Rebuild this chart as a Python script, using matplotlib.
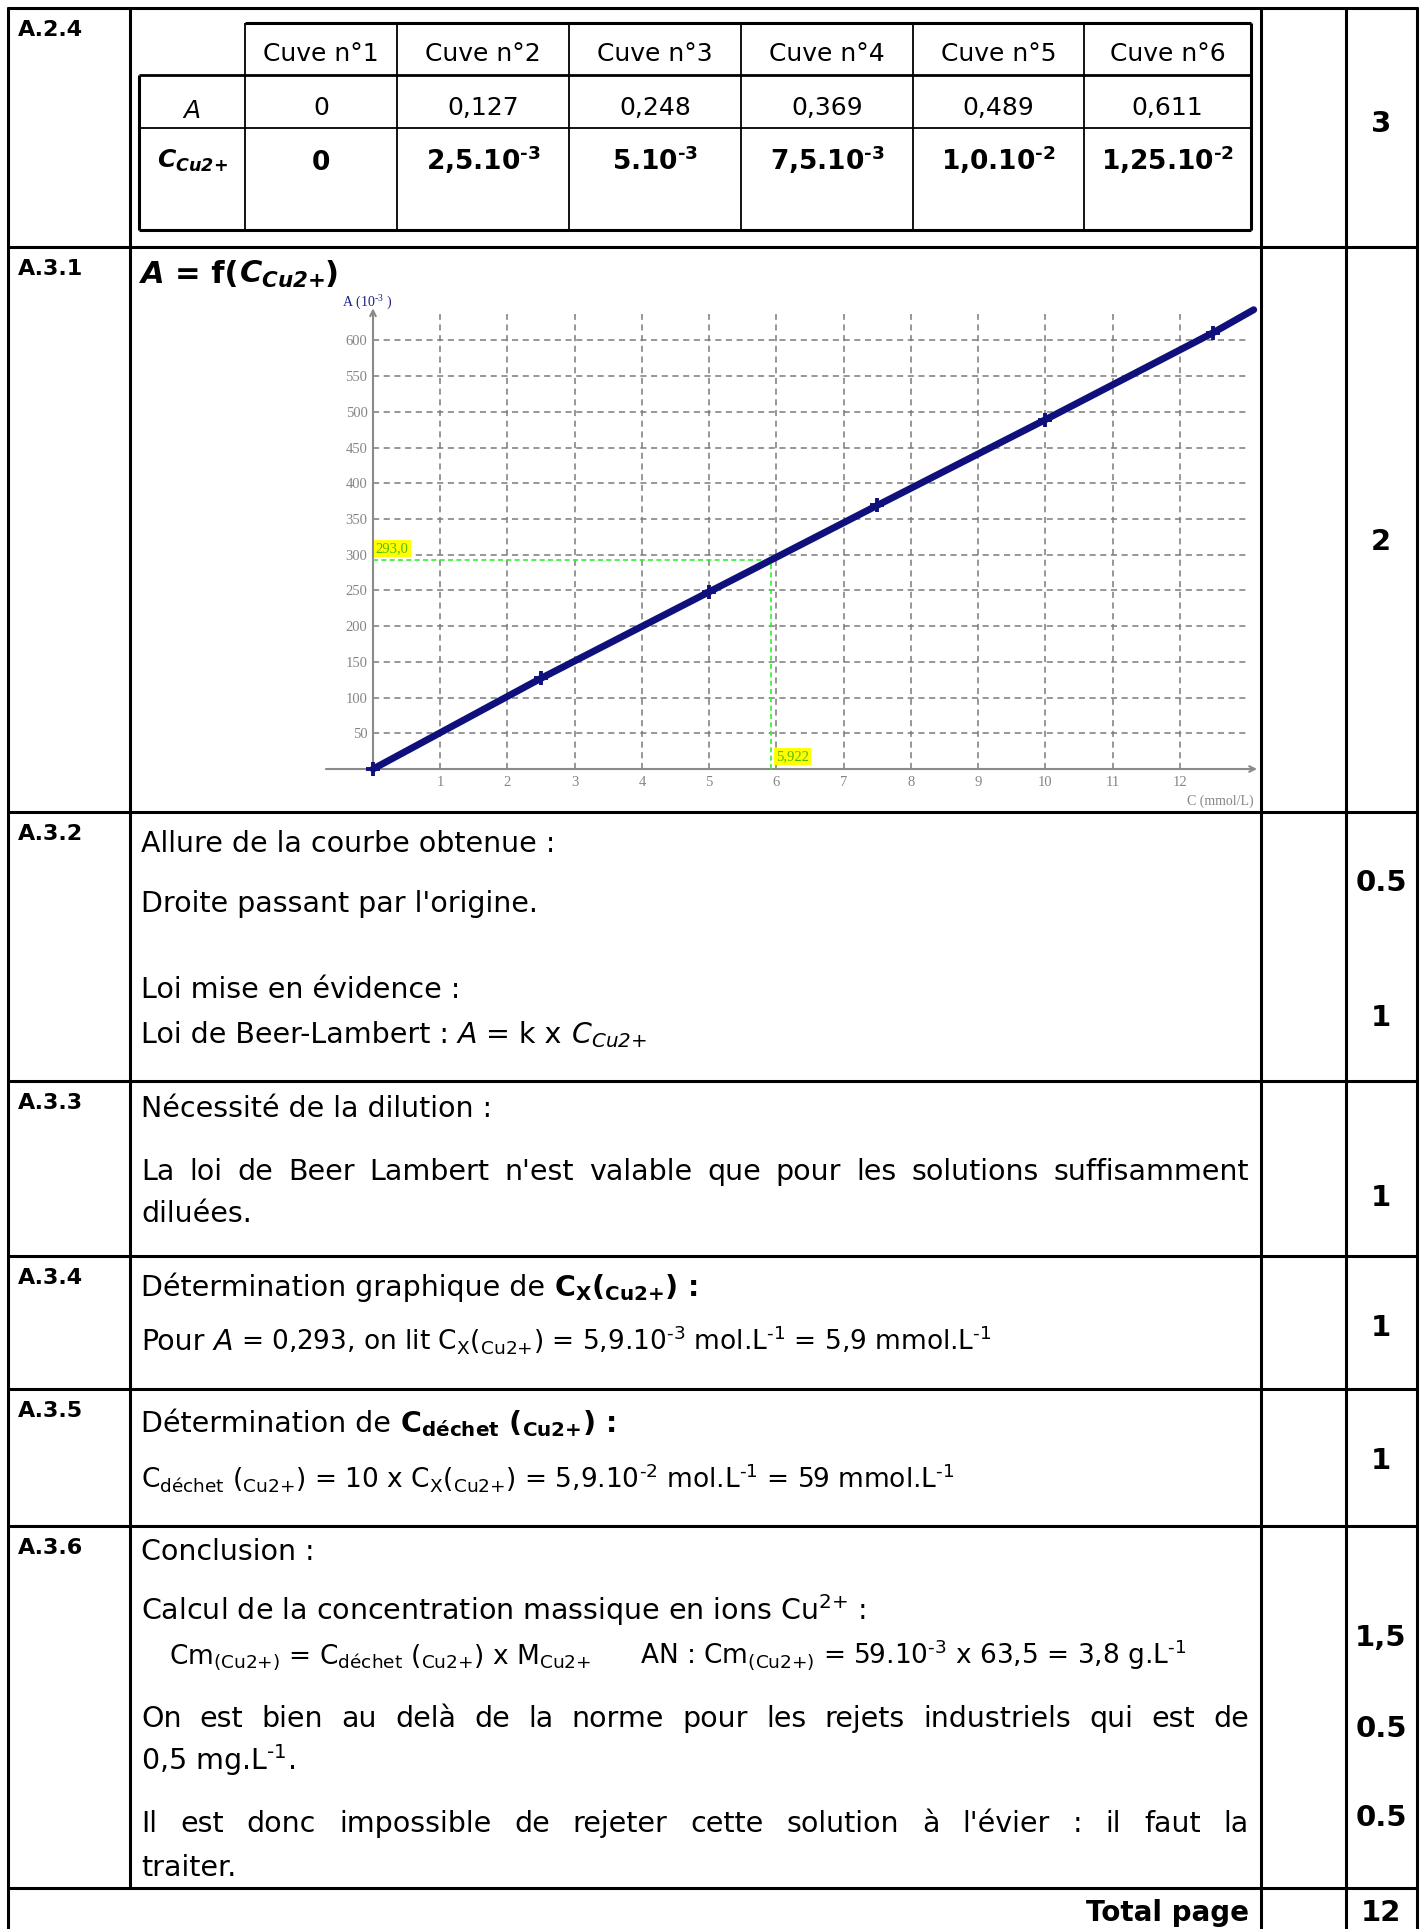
import matplotlib
matplotlib.use('Agg')
import matplotlib.pyplot as plt

plt.rcParams['font.family'] = 'DejaVu Sans'
plt.rcParams['mathtext.fontset'] = 'custom'
plt.rcParams['mathtext.default'] = 'regular'

# exponents use a short hyphen (U+2010), mathtext would turn "-" into a long minus

# table A.2.4
cuves = ['Cuve n°1', 'Cuve n°2', 'Cuve n°3', 'Cuve n°4', 'Cuve n°5', 'Cuve n°6']
abs_txt = ['0', '0,127', '0,248', '0,369', '0,489', '0,611']
conc_txt = ['0', '2,5.10$^{‐3}$', '5.10$^{‐3}$', '7,5.10$^{‐3}$', '1,0.10$^{‐2}$', '1,25.10$^{‐2}$']

# chart A.3.1 (C in mmol/L, A in 10^-3)
c_pts = [0, 2.5, 5, 7.5, 10, 12.5]
a_pts = [0, 127, 248, 369, 489, 611]
c_curve = [0, 2.5, 5, 7.5, 10, 12.5, 13.1]
a_curve = [0, 127, 248, 369, 489, 611, 643]
a_read = 293.0
c_read = 5.922
x_ticks = list(range(1, 13))
y_ticks = list(range(50, 601, 50))

# marks column
labels = ['A.2.4', 'A.3.1', 'A.3.2', 'A.3.3', 'A.3.4', 'A.3.5', 'A.3.6']
rows = [8, 247, 812, 1081, 1256, 1389, 1526, 1888]
marks = [('3', 132), ('2', 550), ('0.5', 891), ('1', 1026), ('1', 1206), ('1', 1336),
         ('1', 1469), ('1,5', 1646), ('0.5', 1737), ('0.5', 1826), ('12', 1921)]

W, H = 1427, 1929
fig = plt.figure(figsize=(W / 100, H / 100), dpi=100)
bg = fig.add_axes([0, 0, 1, 1])
bg.set_xlim(0, W)
bg.set_ylim(H, 0)
bg.axis('off')
R = fig.canvas.get_renderer()

BODY = 20.5
FORM = 19


def width(t):
    return t.get_window_extent(renderer=R).width


def space_w(size, weight):
    a = bg.text(0, 0, 'a a', fontsize=size, fontweight=weight)
    b = bg.text(0, 0, 'aa', fontsize=size, fontweight=weight)
    w = width(a) - width(b)
    a.remove()
    b.remove()
    return w


def put(x, y, parts, size=BODY):
    for p in parts:
        if isinstance(p, str):
            s, pr = p, {}
        else:
            s, pr = p
        fs = pr.get('size', size)
        fw = pr.get('weight', 'normal')
        sw = space_w(fs, fw)
        lead = len(s) - len(s.lstrip(' '))
        trail = len(s) - len(s.rstrip(' '))
        x += lead * sw
        core = s.strip(' ')
        if core:
            t = bg.text(x, y, core, fontsize=fs, fontweight=fw,
                        fontstyle=pr.get('style', 'normal'), va='baseline')
            x += width(t)
        x += trail * sw
    return x


def justify(x0, x1, y, line, size=BODY):
    words = line.split(' ')
    ts = [bg.text(0, y, w, fontsize=size, va='baseline') for w in words]
    ws = [width(t) for t in ts]
    gap = (x1 - x0 - sum(ws)) / (len(words) - 1)
    x = x0
    for t, w in zip(ts, ws):
        t.set_x(x)
        x += w + gap


def hline(y, x0, x1, lw=2.2):
    bg.plot([x0, x1], [y, y], color='black', lw=lw, solid_capstyle='butt')


def vline(x, y0, y1, lw=2.2):
    bg.plot([x, x], [y0, y1], color='black', lw=lw, solid_capstyle='butt')


# main grid
for y in rows:
    hline(y, 7, 1418)
vline(8, 7, H)
vline(130, 7, 1888)
vline(1261, 7, H)
vline(1346, 7, H)
vline(1417, 7, H)

for lab, y in zip(labels, rows[:-1]):
    bg.text(18, y + 28, lab, fontsize=16, fontweight='bold', va='baseline')

for m, y in marks:
    bg.text(1381, y, m, fontsize=21, fontweight='bold', ha='center', va='baseline')

# inner table
cols = [139, 245, 397, 569, 741, 913, 1084, 1251]
ty = [23, 75, 128, 230]
hline(ty[0], cols[1], cols[-1])
hline(ty[1], cols[0], cols[-1], lw=2)
hline(ty[2], cols[0], cols[-1], lw=1.3)
hline(ty[3], cols[0], cols[-1])
vline(cols[0], ty[1], ty[3])
vline(cols[-1], ty[0], ty[3])
for x in cols[1:-1]:
    vline(x, ty[0], ty[3], lw=1.3)
for i in range(6):
    xc = (cols[i + 1] + cols[i + 2]) / 2
    bg.text(xc, 61, cuves[i], fontsize=18, ha='center', va='baseline')
    bg.text(xc, 115, abs_txt[i], fontsize=18, ha='center', va='baseline')
    bg.text(xc, 170, conc_txt[i], fontsize=19, fontweight='bold', ha='center', va='baseline')
xc0 = (cols[0] + cols[1]) / 2
bg.text(xc0, 118, 'A', fontsize=18, fontstyle='italic', ha='center', va='baseline')
bg.text(xc0, 168, 'C$_{Cu2{+}}$', fontsize=18, fontstyle='italic', fontweight='bold',
        ha='center', va='baseline')

# A.3.1 title
put(141, 283, [('A', {'weight': 'bold', 'style': 'italic', 'size': 22}),
               (' = f(', {'weight': 'bold', 'size': 22}),
               ('C$_{Cu2{+}}$', {'weight': 'bold', 'style': 'italic', 'size': 22}),
               (')', {'weight': 'bold', 'size': 22})])

# chart
x0p, x1p, y0p, y1p = 373, 1249, 769, 314
ax = fig.add_axes([x0p / W, 1 - y0p / H, (x1p - x0p) / W, (y0p - y1p) / H])
ax.set_xlim(0, 13.03)
ax.set_ylim(0, 637)
for s in ax.spines.values():
    s.set_visible(False)
ax.set_xticks(x_ticks)
ax.set_yticks(y_ticks)
ax.tick_params(length=0, labelsize=10.5, labelcolor='#858585')
ax.tick_params(axis='x', pad=5)
ax.tick_params(axis='y', pad=4)
for lab in ax.get_xticklabels() + ax.get_yticklabels():
    lab.set_fontfamily('Liberation Serif')
ax.grid(True, color='#7a7a7a', linestyle=(0, (4, 3)), lw=1.1)
ax.annotate('', xy=(13.15, 0), xytext=(-0.7, 0), annotation_clip=False,
            arrowprops=dict(arrowstyle='->', color='#8a8a8a', lw=1.5, shrinkA=0, shrinkB=0))
ax.annotate('', xy=(0, 645), xytext=(0, 0), annotation_clip=False,
            arrowprops=dict(arrowstyle='->', color='#8a8a8a', lw=1.5, shrinkA=0, shrinkB=0))
ax.plot([0, c_read], [a_read, a_read], color='#33ee33', ls=(0, (3, 2)), lw=1.2, zorder=3)
ax.plot([c_read, c_read], [0, a_read], color='#33ee33', ls=(0, (3, 2)), lw=1.2, zorder=3)
ax.plot(c_curve, a_curve, color='#10107c', lw=5, solid_capstyle='round',
        clip_on=False, zorder=5)
ax.plot(c_pts, a_pts, '+', color='#10107c', ms=10, mew=2.8, clip_on=False, zorder=5)
ax.text(0.04, 300, '293,0', fontfamily='Liberation Serif', fontsize=10.5, color='#55bb00',
        va='bottom', bbox=dict(facecolor='#ffff00', edgecolor='none', pad=1.5))
ax.text(c_read + 0.07, 8, '5,922', fontfamily='Liberation Serif', fontsize=10.5, color='#55bb00',
        va='bottom', bbox=dict(facecolor='#ffff00', edgecolor='none', pad=1.5))
bg.text(342, 307, 'A (10$^{‐3}$ )', fontfamily='Liberation Serif', fontsize=10,
        color='#1c1c8a', va='baseline')
bg.text(1254, 805, 'C (mmol/L)', fontfamily='Liberation Serif', fontsize=10,
        color='#858585', ha='right', va='baseline')

# A.3.2
X = 141
put(X, 852, ['Allure de la courbe obtenue :'])
put(X, 912, ["Droite passant par l'origine."])
put(X, 998, ['Loi mise en évidence :'])
put(X, 1043, ['Loi de Beer-Lambert : ', ('A', {'style': 'italic'}), ' = k x ',
              ('C$_{Cu2{+}}$', {'style': 'italic'})])

# A.3.3
put(X, 1117, ['Nécessité de la dilution :'])
justify(X, 1249, 1180, "La loi de Beer Lambert n'est valable que pour les solutions suffisamment")
put(X, 1222, ['diluées.'])

# A.3.4
put(X, 1296, ['Détermination graphique de ',
              ('C$_X$($_{Cu2{+}}$) :', {'weight': 'bold'})])
put(X, 1350, ['Pour ', ('A', {'style': 'italic'}),
              (' = 0,293, on lit C$_X$($_{Cu2{+}}$) = 5,9.10$^{‐3}$ mol.L$^{‐1}$ = 5,9 mmol.L$^{‐1}$',
               {'size': FORM})])

# A.3.5
put(X, 1432, ['Détermination de ',
              ('C$_{déchet}$ ($_{Cu2{+}}$) :', {'weight': 'bold'})])
put(X, 1487, [('C$_{déchet}$ ($_{Cu2{+}}$) = 10 x C$_X$($_{Cu2{+}}$) = 5,9.10$^{‐2}$ mol.L$^{‐1}$ = 59 mmol.L$^{‐1}$',
               {'size': FORM})])

# A.3.6
put(X, 1560, ['Conclusion :'])
put(X, 1620, ['Calcul de la concentration massique en ions Cu$^{2{+}}$ :'])
put(169, 1663, ['Cm$_{(Cu2{+})}$ = C$_{déchet}$ ($_{Cu2{+}}$) x M$_{Cu2{+}}$'], size=FORM)
put(640, 1663, ['AN : Cm$_{(Cu2{+})}$ = 59.10$^{‐3}$ x 63,5 = 3,8 g.L$^{‐1}$'], size=FORM)
justify(X, 1249, 1727, 'On est bien au delà de la norme pour les rejets industriels qui est de')
put(X, 1770, ['0,5 mg.L$^{‐1}$.'])
justify(X, 1249, 1832, "Il est donc impossible de rejeter cette solution à l'évier : il faut la")
put(X, 1876, ['traiter.'])

bg.text(1249, 1921, 'Total page', fontsize=20, fontweight='bold', ha='right', va='baseline')

fig.savefig('out.png', dpi=100)
